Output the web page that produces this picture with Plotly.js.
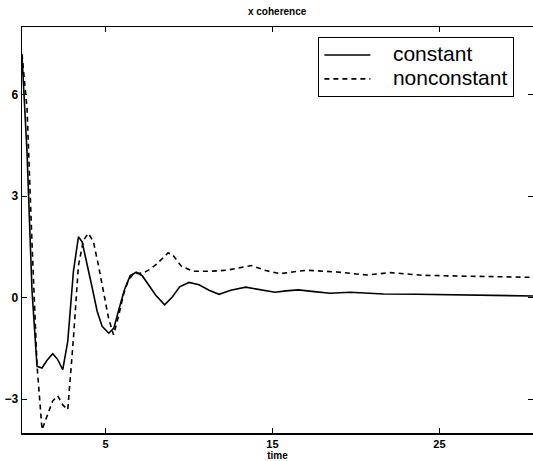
<!DOCTYPE html>
<html>
<head>
<meta charset="utf-8">
<script src="https://cdn.plot.ly/plotly-3.0.1.min.js"></script>
<style>html,body{margin:0;padding:0;background:#fff;}#chart{width:533px;height:461px;}</style>
</head>
<body>
<div id="chart"></div>
<script>
const timeConstant = [0, 0.3, 0.6, 0.9, 1.2, 1.5, 1.84, 2.14, 2.44, 2.74, 3.08, 3.38, 3.6, 3.9, 4.2, 4.5, 4.8, 5.2, 5.5, 5.8, 6.14, 6.48, 6.84, 7.2, 7.6, 8.0, 8.54, 9.0, 9.44, 10.0, 10.6, 11.2, 11.8, 12.5, 13.4, 14.2, 15.15, 15.8, 16.55, 17.5, 18.45, 19.65, 20.6, 21.65, 23.65, 25.65, 27.65, 29.5, 30.6];
const valConstant = [7.15, 4.3, 0.2, -2.03, -2.08, -1.85, -1.66, -1.83, -2.13, -1.29, 0.78, 1.8, 1.65, 1.0, 0.3, -0.4, -0.85, -1.05, -0.9, -0.35, 0.24, 0.65, 0.75, 0.65, 0.38, 0.08, -0.21, 0.02, 0.32, 0.45, 0.38, 0.22, 0.1, 0.22, 0.31, 0.25, 0.16, 0.2, 0.23, 0.18, 0.13, 0.16, 0.14, 0.11, 0.1, 0.08, 0.07, 0.06, 0.05];

const timeNonconstant = [0, 0.3, 0.6, 0.9, 1.2, 1.5, 1.84, 2.14, 2.44, 2.74, 3.08, 3.38, 3.68, 3.98, 4.28, 4.58, 4.88, 5.18, 5.48, 5.78, 6.08, 6.38, 6.68, 7.24, 7.6, 8.04, 8.74, 9.0, 9.54, 10.24, 11.25, 12.25, 13.0, 13.75, 14.6, 15.45, 16.2, 17.05, 18.85, 20.65, 22.05, 24.05, 26.05, 28.45, 30.6];
const valNonconstant = [7.2, 5.6, 1.6, -2.0, -3.9, -3.5, -3.05, -2.9, -3.17, -3.31, -1.2, 0.95, 1.7, 1.9, 1.65, 0.95, 0.2, -0.6, -1.1, -0.55, 0.1, 0.53, 0.71, 0.73, 0.82, 0.98, 1.32, 1.28, 0.93, 0.78, 0.78, 0.81, 0.88, 0.95, 0.8, 0.71, 0.76, 0.81, 0.76, 0.67, 0.74, 0.66, 0.64, 0.61, 0.6];

const seriesNames = ['constant', 'nonconstant'];
const xTicks = [5, 15, 25];
const yTicks = [-3, 0, 3, 6];

const fam = '"Liberation Sans", Arial, Helvetica, sans-serif';
const pad = '\u00a0\u00a0\u00a0';
const legendLabel = s => '<span style="font-size:21px">' + pad + s + '</span>';

const traces = [
  {x: timeConstant, y: valConstant, name: legendLabel(seriesNames[0]), mode: 'lines',
   line: {color: '#000', width: 1.6}},
  {x: timeNonconstant, y: valNonconstant, name: legendLabel(seriesNames[1]), mode: 'lines',
   line: {color: '#000', width: 1.6, dash: '5px,4px'}}
];

const axisCommon = {
  showline: true, linecolor: '#000', linewidth: 1.5, mirror: 'ticks',
  ticks: 'inside', ticklen: 5, tickwidth: 1, tickcolor: '#000',
  showgrid: false, zeroline: false,
  tickfont: {family: fam, size: 12, color: '#000'}
};

const layout = {
  width: 533, height: 461,
  margin: {l: 22, r: 0, t: 27, b: 28},
  paper_bgcolor: '#fff', plot_bgcolor: '#fff',
  title: {text: '<b>x coherence</b>', font: {family: fam, size: 10, color: '#000'},
          x: 0.52, xanchor: 'center', y: 0.975, yanchor: 'middle'},
  xaxis: Object.assign({}, axisCommon, {
    range: [0, 30.6], tickvals: xTicks, ticktext: xTicks.map(v => '<b>' + v + '</b>'),
    tickfont: {family: fam, size: 11, color: '#000'},
    ticklabelstandoff: 0,
    title: {text: '<b>time</b>', font: {family: fam, size: 10, color: '#000'}, standoff: 1}
  }),
  yaxis: Object.assign({}, axisCommon, {
    range: [-4, 8], tickvals: yTicks,
    ticktext: yTicks.map(v => '<b>' + (v < 0 ? '\u2212' + Math.abs(v) : String(v)) + '</b>')
  }),
  showlegend: true,
  legend: {x: 0.58, y: 0.975, xanchor: 'left', yanchor: 'top',
           bgcolor: '#fff', bordercolor: '#000', borderwidth: 1,
           font: {family: fam, size: 16, color: '#000'},
           itemwidth: 46, tracegroupgap: 0}
};

Plotly.newPlot('chart', traces, layout, {displayModeBar: false, staticPlot: true});
</script>
</body>
</html>
